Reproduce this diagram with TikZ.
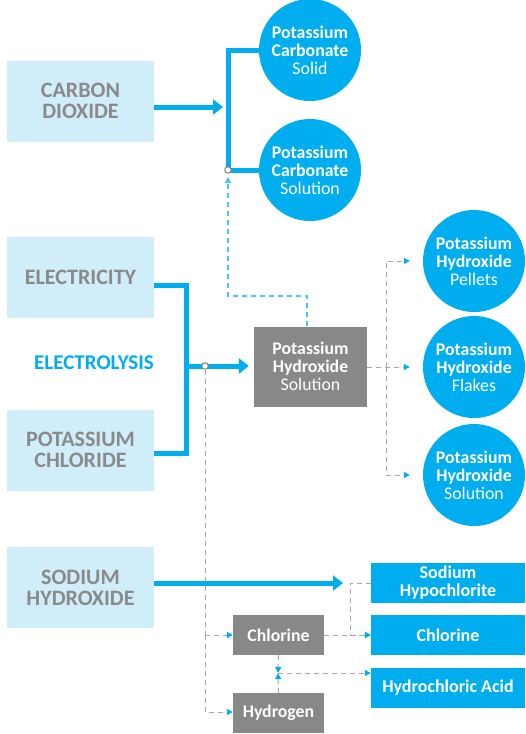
\documentclass[tikz,border=0pt]{standalone}
\usepackage{fontspec}
\setmainfont{Carlito}
\usetikzlibrary{arrows.meta,calc}
\definecolor{cblue}{HTML}{00AEEF}
\definecolor{dblue}{HTML}{4FC3F2}
\definecolor{lightb}{HTML}{CFEEFA}
\definecolor{tgray}{HTML}{8A8A8A}
\definecolor{boxgray}{HTML}{888888}
\definecolor{dgray}{HTML}{A8A8A8}
\begin{document}
\begin{tikzpicture}[x=1pt,y=-1pt,
  src/.style={fill=lightb, text=tgray, font=\fontsize{22}{21}\selectfont\bfseries, align=center, minimum width=147pt, minimum height=81pt, inner sep=0pt},
  prod/.style={circle, fill=cblue, text=white, minimum size=102pt, inner sep=0pt, align=center, font=\fontsize{17.8}{18}\selectfont},
  gbox/.style={fill=boxgray, text=white, font=\fontsize{17.8}{18}\selectfont\bfseries, minimum width=91pt, minimum height=40pt, inner sep=0pt, align=center},
  bbox/.style={fill=cblue, text=white, font=\fontsize{18}{18}\selectfont\bfseries, minimum width=154pt, minimum height=40pt, inner sep=0pt, align=center},
  thickline/.style={draw=cblue, line width=5pt},
  thickarrow/.style={thickline, -{Triangle[length=10pt,width=15pt]}},
  bdash/.style={draw=dblue, line width=1.6pt, dash pattern=on 5pt off 4pt},
  gdash/.style={draw=dgray, line width=1pt, dash pattern=on 5pt off 4pt},
  sarrow/.style={-{Triangle[length=6pt,width=6pt,color=cblue]}},
  junction/.style={circle, draw=gray, fill=white, line width=1pt, minimum size=6.5pt, inner sep=0pt}
]
\useasboundingbox (0,0) rectangle (526,734);
\fill[white] (0,0) rectangle (526,734);

% sources
\node[src] (co2) at (80.5,101) {CARBON\\DIOXIDE};
\node[src] (elec) at (80.5,277.5) {ELECTRICITY};
\node[src] (kcl) at (80.5,450) {POTASSIUM\\CHLORIDE};
\node[src] (naoh) at (80.5,587.5) {SODIUM\\HYDROXIDE};
\node[text=cblue, font=\fontsize{21}{21}\selectfont\bfseries, anchor=east, inner sep=0pt] (elys) at (154,363) {ELECTROLYSIS};

% potassium carbonate
\node[prod] (pcs) at (310,50) {\textbf{Potassium}\\\textbf{Carbonate}\\Solid};
\node[prod] (pcl) at (310,170) {\textbf{Potassium}\\\textbf{Carbonate}\\Solution};

% KOH
\node[gbox, minimum width=113pt, minimum height=80pt] (koh) at (310.5,366.5) {Potassium\\Hydroxide\\\mdseries Solution};
\node[prod] (kohp) at (474,261) {\textbf{Potassium}\\\textbf{Hydroxide}\\Pellets};
\node[prod] (kohf) at (474,367) {\textbf{Potassium}\\\textbf{Hydroxide}\\Flakes};
\node[prod] (kohs) at (474,475) {\textbf{Potassium}\\\textbf{Hydroxide}\\Solution};

% bottom
\node[gbox] (cl) at (278.5,635) {Chlorine};
\node[gbox] (h2) at (278.5,713) {Hydrogen};
\node[bbox] (naocl) at (448,583) {Sodium\\Hypochlorite};
\node[bbox] (clb) at (448,635) {Chlorine};
\node[bbox] (hcl) at (448,688) {Hydrochloric Acid};

% coordinates
\coordinate (a1) at (223,107);
\coordinate (b1) at (228,50);
\coordinate (b2) at (228,170);
\coordinate (e1) at (186,285);
\coordinate (e2) at (186,453);
\coordinate (e3) at (186,366);
\coordinate (d1) at (228,296);
\coordinate (g1) at (205,635);
\coordinate (g2) at (205,712);
\coordinate (k1) at (386,261);
\coordinate (k2) at (386,475);
\coordinate (n1) at (350,583);
\coordinate (n2) at (350,635);
\coordinate (h1) at (278,673);

% carbon dioxide
\draw[thickarrow] (co2.east |- a1) -- (a1);
\draw[thickline, line join=miter] (pcs.west) -- (b1) -- (b2) -- (pcl.west);
\node[junction] (j1) at (b2) {};

% electrolysis
\draw[thickline, line join=miter] (elec.east |- e1) -- (e1) -- (e2) -- (kcl.east |- e2);
\draw[thickarrow, shorten >=5pt] (e3) -- (koh.west |- e3);
\node[junction] (j2) at (205,366) {};

% KOH to carbonate
\draw[bdash, -{Triangle[length=6pt,width=6pt]}, shorten >=3pt] (koh.north -| 307,0) |- (d1) -- (j1.south);

% KOH products
\draw[gdash, sarrow, shorten >=13pt] (koh.east |- kohf.center) -- (kohf.west);
\draw[gdash, sarrow, shorten >=13pt] (k1 |- kohf.center) -- (k1) -- (kohp.west);
\draw[gdash, sarrow, shorten >=13pt] (k1 |- kohf.center) -- (k2) -- (kohs.west);

% electrolysis products
\draw[gdash] (j2.south) -- (g1);
\draw[gdash, sarrow] (g1) -- (cl.west);
\draw[gdash, sarrow] (g1) -- (g2) -- (h2.west |- g2);

% sodium hydroxide
\draw[thickarrow, shorten >=7pt] (naoh.east |- n1) -- (n1);
\draw[gdash] (naocl.west) -- (n1) -- (n2);
\draw[gdash, sarrow] (n2) -- (clb.west);
\draw[gdash, sarrow] (cl.east) -- (clb.west);

% chlorine + hydrogen
\draw[gdash, sarrow] (cl.south) -- (h1);
\draw[gdash, sarrow] (h2.north) -- (h1);
\draw[gdash, sarrow] (h1) -- (hcl.west |- h1);
\end{tikzpicture}
\end{document}
